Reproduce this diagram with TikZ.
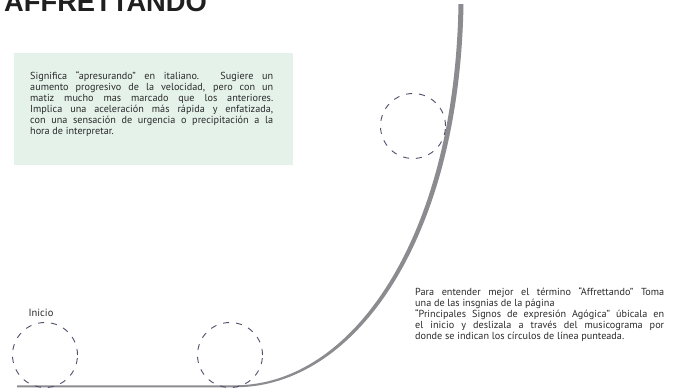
\documentclass[tikz,border=0pt]{standalone}
\usepackage{fontspec}
\setmainfont{PT Sans}
\newfontfamily\titlefont{Liberation Sans}
\definecolor{boxgreen}{HTML}{E4F2EA}
\definecolor{txt}{HTML}{2A2A2A}
\definecolor{curvegray}{HTML}{8C8C90}
\definecolor{dashcol}{HTML}{4E4E6C}
\newcommand\jl[2]{\makebox[#1][s]{#2}}
\begin{document}
\begin{tikzpicture}[x=1pt,y=-1pt,
  bodytext/.style={font=\fontsize{10.2}{10.9}\selectfont, text=txt, inner sep=0pt, align=left, anchor=north west},
  marker/.style={circle, draw=dashcol, line width=0.9pt, dash pattern=on 6pt off 7pt, minimum size=65pt, inner sep=0pt}]
\useasboundingbox (0,0) rectangle (675,388);
% title (cropped at top)
\node[anchor=base west, inner sep=0pt, font=\titlefont\fontsize{27.3}{28}\bfseries\selectfont, text=black!88] (title) at (4,11) {AFFRETTANDO};
% green box
\fill[boxgreen] (14,53) rectangle (293,165);
\node[bodytext] (desc) at (30,71.5) {\jl{243pt}{Significa “apresurando” en italiano. Sugiere un}\\
\jl{243pt}{aumento progresivo de la velocidad, pero con un}\\
\jl{243pt}{matiz mucho mas marcado que los anteriores.}\\
\jl{243pt}{Implica una aceleración más rápida y enfatizada,}\\
\jl{243pt}{con una sensación de urgencia o precipitación a la}\\
hora de interpretar.};
% curve (tapered)
\fill[curvegray] (463.5,4) .. controls (459.5,240) and (355,387.3) .. (235,387.3) -- (17,387.3) -- (17,385.3) -- (235,385.3) .. controls (351,385.3) and (454.5,240) .. (458.5,4) -- cycle;
% circles
\node[marker] (c1) at (45,355) {};
\node[marker] (c2) at (230,355) {};
\node[marker] (c3) at (413,126) {};
\node[font=\fontsize{10.5}{11}\selectfont, text=txt, inner sep=0pt] (inicio) at (41,313) {Inicio};
% instructions
\node[bodytext] (instr) at (415,287.5) {\jl{249pt}{Para entender mejor el término “Affrettando” Toma}\\
una de las insgnias de la página\\
\jl{249pt}{“Principales Signos de expresión Agógica” úbicala en}\\
\jl{249pt}{el inicio y deslizala a través del musicograma por}\\
donde se indican los círculos de línea punteada.};
\end{tikzpicture}
\end{document}
